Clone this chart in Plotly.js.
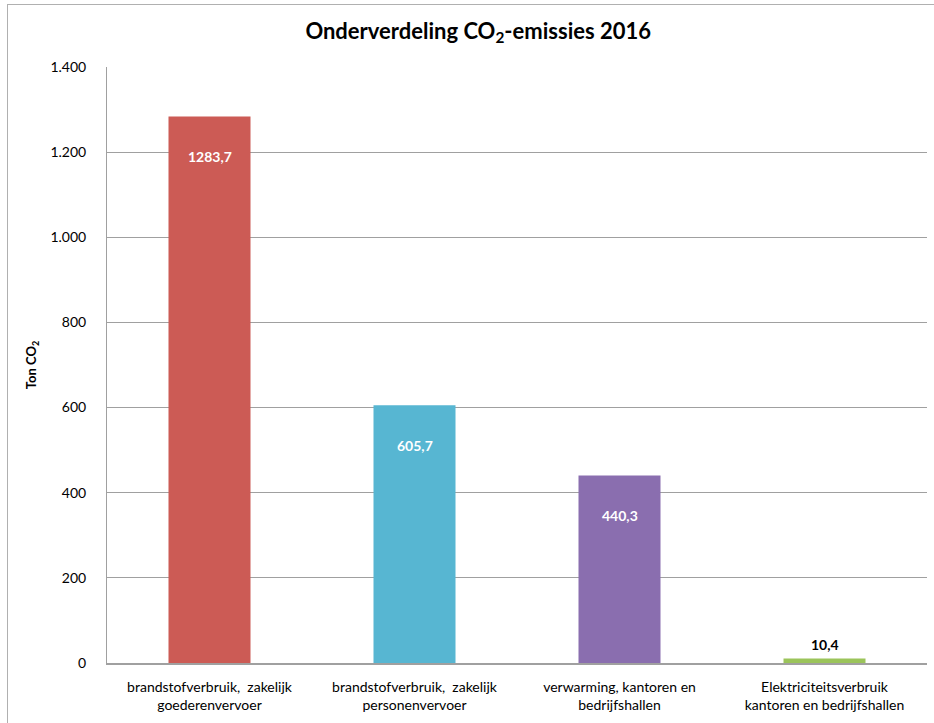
<!DOCTYPE html>
<html>
<head>
<meta charset="utf-8">
<script src="https://cdn.plot.ly/plotly-3.0.1.min.js"></script>
<style>
html,body{margin:0;padding:0;background:#fff;}
#wrap{position:relative;width:934px;height:723px;overflow:hidden;}
#frame{position:absolute;left:7px;top:4px;width:940px;height:740px;border:1px solid #B0B0B0;box-sizing:border-box;pointer-events:none;}
#chart{position:absolute;left:0;top:0;width:934px;height:723px;}
</style>
</head>
<body>
<div id="wrap">
<div id="chart"></div>
<div id="frame"></div>
</div>
<script>
const categories = [
  "brandstofverbruik,  zakelijk<br>goederenvervoer",
  "brandstofverbruik,  zakelijk<br>personenvervoer",
  "verwarming, kantoren en<br>bedrijfshallen",
  "Elektriciteitsverbruik<br>kantoren en bedrijfshallen"
];
const values = [1283.7, 605.7, 440.3, 10.4];
const barColors = ["#CC5B55", "#57B6D2", "#8A6EAF", "#9BC45A"];
const yTicks = [0, 200, 400, 600, 800, 1000, 1200, 1400];

const fmt = v => v.toFixed(1).replace('.', ',');

const trace = {
  type: 'bar',
  x: categories,
  y: values,
  marker: {color: barColors, line: {width: 0}},
  hoverinfo: 'none'
};

const annotations = values.map((v, i) => {
  const inside = v > 100;
  return {
    x: categories[i], y: v, xref: 'x', yref: 'y',
    text: '<b>' + fmt(v) + '</b>',
    showarrow: false,
    yshift: inside ? -40 : 14,
    font: {family: 'Lato, "DejaVu Sans", sans-serif', size: 14, color: inside ? '#FFFFFF' : '#000000'}
  };
});

const layout = {
  width: 934, height: 723,
  margin: {l: 107, r: 7, t: 67, b: 60},
  paper_bgcolor: '#FFFFFF', plot_bgcolor: '#FFFFFF',
  separators: ',.',
  showlegend: false,
  bargap: 0.6,
  font: {family: 'Lato, "DejaVu Sans", sans-serif', color: '#000000', size: 14},
  title: {
    text: '<b>Onderverdeling CO<sub>2</sub>-emissies 2016</b>',
    x: 0.512, xref: 'container', xanchor: 'center',
    y: 0.957, yref: 'container', yanchor: 'middle',
    font: {family: 'Lato, "DejaVu Sans", sans-serif', size: 22, color: '#000000'}
  },
  xaxis: {
    showgrid: false, zeroline: false,
    showline: true, linecolor: '#A0A0A0', linewidth: 2,
    ticks: '', ticklabelstandoff: 10,
    tickfont: {size: 14}
  },
  yaxis: {
    range: [0, 1400],
    tickvals: yTicks, tickformat: ',d',
    showgrid: true, gridcolor: '#A0A0A0', gridwidth: 1,
    zeroline: false,
    showline: true, linecolor: '#A0A0A0', linewidth: 1,
    ticks: '', ticklabelstandoff: 17,
    tickfont: {size: 14},
    title: {text: '<b>Ton CO<sub>2</sub></b>', standoff: 10, font: {size: 13}}
  },
  annotations: annotations
};

Plotly.newPlot('chart', [trace], layout, {staticPlot: true, displayModeBar: false});
</script>
</body>
</html>
